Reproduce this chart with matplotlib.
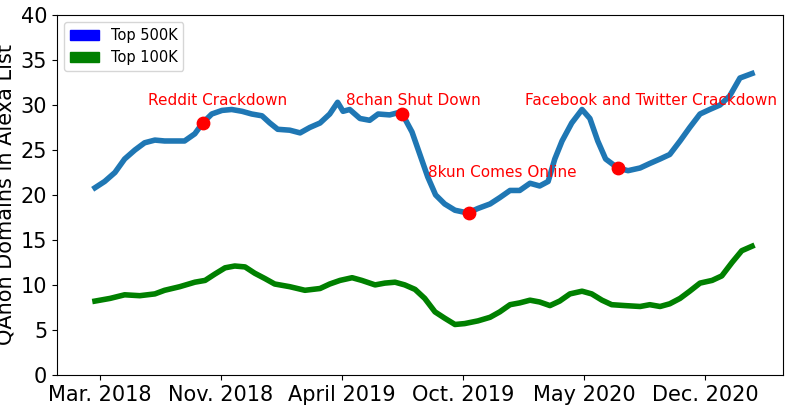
import matplotlib
matplotlib.use('Agg')
import matplotlib.pyplot as plt
import matplotlib.patches as mpatches

# days since Mar. 2018 tick
top500_days = [-8, 8, 25, 41, 58, 74, 91, 107, 124, 140, 157, 170, 185, 202, 218, 235, 251, 268, 281, 294,
               314, 331, 347, 364, 380, 393, 402, 413, 430, 446, 460, 479, 496, 504, 516, 529, 542, 555, 570, 587,
               608, 625, 645, 661, 678, 694, 711, 727, 741, 752, 764, 780, 797, 810, 823, 836, 856, 873, 893, 909,
               926, 942, 959, 975, 992, 1008, 1025, 1041, 1058, 1078]
top500 = [20.8, 21.5, 22.5, 24, 25, 25.8, 26.1, 26, 26, 26, 26.8, 28, 29, 29.4, 29.5, 29.3, 29, 28.8, 28, 27.3,
          27.2, 26.9, 27.5, 28, 29, 30.3, 29.3, 29.5, 28.5, 28.3, 29, 28.9, 29.2, 28.5, 27, 24.5, 22, 20, 19, 18.3,
          18, 18.5, 19, 19.7, 20.5, 20.5, 21.3, 21, 21.5, 24, 26, 28, 29.5, 28.5, 26, 24, 23, 22.7, 23, 23.5,
          24, 24.5, 26, 27.5, 29, 29.5, 30, 31, 33, 33.5]

top100_days = [-8, 17, 41, 66, 91, 107, 132, 157, 174, 190, 207, 223, 240, 256, 273, 289, 314, 339, 364, 380,
               397, 417, 433, 455, 471, 488, 504, 521, 537, 554, 570, 587, 603, 625, 645, 661, 678, 694, 711, 727,
               744, 760, 777, 797, 813, 830, 846, 868, 893, 909, 926, 942, 959, 975, 992, 1012, 1028, 1045, 1061, 1078]
top100 = [8.2, 8.5, 8.9, 8.8, 9, 9.4, 9.8, 10.3, 10.5, 11.2, 11.9, 12.1, 12.0, 11.3, 10.7, 10.1, 9.8, 9.4, 9.6, 10.1,
          10.5, 10.8, 10.5, 10, 10.2, 10.3, 10, 9.5, 8.5, 7, 6.3, 5.6, 5.7, 6, 6.4, 7, 7.8, 8, 8.3, 8.1,
          7.7, 8.2, 9, 9.3, 9, 8.3, 7.8, 7.7, 7.6, 7.8, 7.6, 7.9, 8.5, 9.3, 10.2, 10.5, 11, 12.5, 13.8, 14.3]

event_days = [170, 499, 610, 856]
event_vals = [28, 29, 18, 23]
event_labels = ['Reddit Crackdown', '8chan Shut Down', '8kun Comes Online', 'Facebook and Twitter Crackdown']
label_days = [195, 519, 666, 911]
label_vals = [30.5, 30.5, 22.5, 30.5]

tick_labels = ['Mar. 2018', 'Nov. 2018', 'April 2019', 'Oct. 2019', 'May 2020', 'Dec. 2020']
tick_days = [0, 200, 400, 600, 800, 1000]

fig, ax = plt.subplots(figsize=(7.9, 4.07), dpi=100)
ax.plot(top500_days, top500, color='#1f77b4', linewidth=4)
ax.plot(top100_days, top100, color='green', linewidth=4)
ax.scatter(event_days, event_vals, color='red', s=80, zorder=5)
for d, v, t in zip(label_days, label_vals, event_labels):
    ax.text(d, v, t, color='red', fontsize=11, ha='center', va='center')

ax.set_xlim(-71, 1129)
ax.set_ylim(0, 40)
ax.set_xticks(tick_days)
ax.set_xticklabels(tick_labels)
ax.tick_params(labelsize=15)
ax.set_ylabel('QAnon Domains in Alexa List', fontsize=15, labelpad=4)
ax.legend(handles=[mpatches.Patch(color='blue', label='Top 500K'),
                   mpatches.Patch(color='green', label='Top 100K')],
          loc='upper left', fontsize=10.5)

plt.subplots_adjust(left=0.072, right=0.991, top=0.963, bottom=0.079)
plt.savefig('out.png', dpi=100)
